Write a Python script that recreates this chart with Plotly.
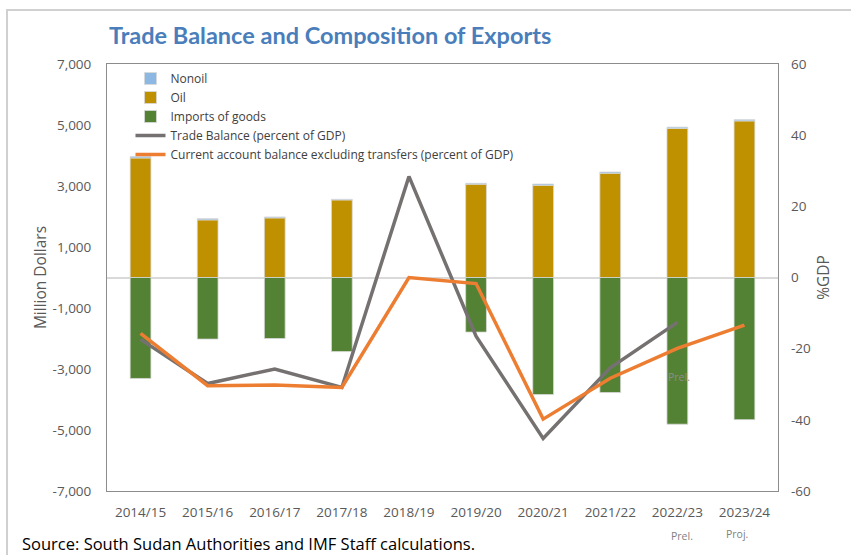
import plotly.graph_objects as go

# Fiscal years
years = ["2014/15", "2015/16", "2016/17", "2017/18", "2018/19",
         "2019/20", "2020/21", "2021/22", "2022/23", "2023/24"]

# Exports and imports of goods, million US dollars
oil = [3920, 1890, 1955, 2545, None, 3060, 3025, 3420, 4890, 5135]
nonoil = [50, 40, 30, 20, None, 30, 40, 40, 40, 40]
imports = [-3310, -2020, -2000, -2430, None, -1790, -3840, -3770, -4810, -4660]

# Balances, percent of GDP
trade_balance = [-17.4, -29.8, -25.7, -30.9, 28.4, -16.5, -45.2, -25.4, -12.6, None]
ca_excl_transfers = [-15.7, -30.4, -30.2, -30.9, 0.0, -1.7, -39.8, -28.3, -19.9, -13.4]

left_ticks = [7000, 5000, 3000, 1000, -1000, -3000, -5000, -7000]
left_labels = ["7,000", "5,000", "3,000", "1,000", "-1,000", "-3,000", "-5,000", "-7,000"]
right_ticks = [60, 40, 20, 0, -20, -40, -60]
right_labels = ["60", "40", "20", "0", "-20", "-40", "-60"]

FONT = "Open Sans"
GREY_TXT = "#595959"
TICK_SIZE = 13.5
BAR_W = 0.31
bar_line = dict(color="#D9D9D9", width=0.8)

fig = go.Figure()

fig.add_trace(go.Bar(x=years, y=oil, name="Oil", marker=dict(color="#BF9000", line=bar_line),
                     width=BAR_W, legendrank=2))
fig.add_trace(go.Bar(x=years, y=nonoil, name="Nonoil", marker=dict(color="#8DB8E3", line=bar_line),
                     width=BAR_W, legendrank=1))
fig.add_trace(go.Bar(x=years, y=imports, name="Imports of goods",
                     marker=dict(color="#548235", line=bar_line), width=BAR_W, legendrank=3))
fig.add_trace(go.Scatter(x=years, y=trade_balance, name="Trade Balance (percent of GDP)",
                         mode="lines", line=dict(color="#767171", width=3.5), yaxis="y2",
                         legendrank=4))
fig.add_trace(go.Scatter(x=years, y=ca_excl_transfers,
                         name="Current account balance excluding transfers (percent of GDP)",
                         mode="lines", line=dict(color="#ED7D31", width=3.5), yaxis="y2",
                         legendrank=5))

fig.update_layout(
    width=851, height=555,
    margin=dict(l=107, r=73, t=64, b=64),
    paper_bgcolor="white", plot_bgcolor="white",
    barmode="relative",
    font=dict(family=FONT, color=GREY_TXT, size=12),
    showlegend=True,
    legend=dict(x=0.035, y=1.0, xanchor="left", yanchor="top",
                bgcolor="rgba(0,0,0,0)", traceorder="normal",
                font=dict(size=12, color="#404040"), itemwidth=30,
                tracegroupgap=0),
    xaxis=dict(type="category", showline=True, linecolor="#8C8C8C", linewidth=1,
               mirror=True, showgrid=False, ticks="", tickfont=dict(size=TICK_SIZE),
               ticklabelstandoff=9),
    yaxis=dict(range=[-7000, 7000], tickvals=left_ticks, ticktext=left_labels,
               showline=True, linecolor="#8C8C8C", linewidth=1, mirror=True,
               showgrid=False, zeroline=True, zerolinecolor="#D9D9D9", zerolinewidth=1.5,
               ticks="", tickfont=dict(size=TICK_SIZE), ticklabelstandoff=12,
               title=dict(text="Million Dollars", font=dict(size=15.5, color=GREY_TXT),
                          standoff=2)),
    yaxis2=dict(range=[-60, 60], tickvals=right_ticks, ticktext=right_labels,
                overlaying="y", side="right",
                showgrid=False, zeroline=False, showline=False, ticks="",
                tickfont=dict(size=TICK_SIZE), ticklabelstandoff=12,
                title=dict(text="%GDP", font=dict(size=15.5, color=GREY_TXT), standoff=8)),
)

# Outer frame of the exhibit
fig.add_shape(type="rect", xref="paper", yref="paper",
              x0=-0.149, x1=1.13, y0=-0.18, y1=1.1265,
              line=dict(color="#D0D0D0", width=2), fillcolor="rgba(0,0,0,0)", layer="below")

fig.add_annotation(text="<b>Trade Balance and Composition of Exports</b>",
                   xref="paper", yref="paper", x=0.0, y=1.068, xanchor="left", yanchor="middle",
                   showarrow=False, font=dict(family="Lato", size=23.5, color="#4A7EBB"))

fig.add_annotation(text="Source: South Sudan Authorities and IMF Staff calculations.",
                   xref="paper", yref="paper", x=-0.13, y=-0.124, xanchor="left",
                   yanchor="middle", showarrow=False,
                   font=dict(family=FONT, size=16.5, color="#000000"))

# Preliminary / projection markers
fig.add_annotation(text="Prel.", xref="x", yref="paper", x="2022/23", y=-0.105,
                   xshift=5, yanchor="middle", showarrow=False,
                   font=dict(size=10.5, color="#7F7F7F"))
fig.add_annotation(text="Proj.", xref="x", yref="paper", x="2023/24", y=-0.101,
                   xshift=-7, yanchor="middle", showarrow=False,
                   font=dict(size=10.5, color="#7F7F7F"))
fig.add_annotation(text="Prel.", xref="x", yref="y2", x="2022/23", y=-28,
                   xshift=2, yanchor="middle", showarrow=False,
                   font=dict(size=10.5, color="#8C8C8C"))

fig.write_html("out.html")
